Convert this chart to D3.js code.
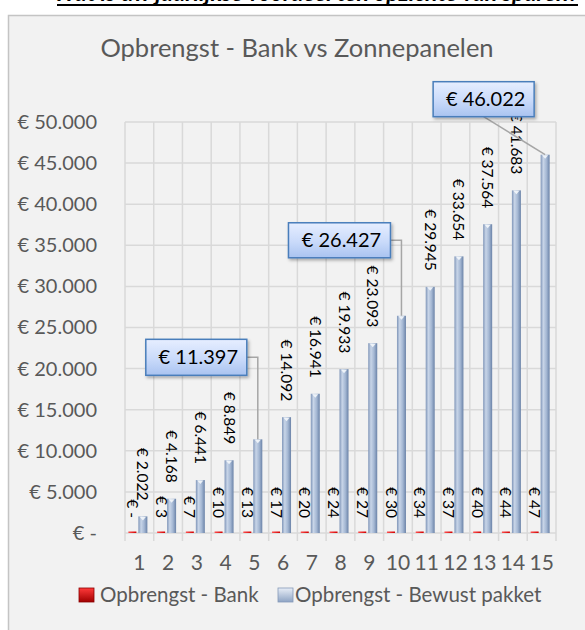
<!DOCTYPE html>
<html>
<head>
<meta charset="utf-8">
<script src="https://cdn.jsdelivr.net/npm/d3@7"></script>
<style>
  html, body { margin: 0; padding: 0; background: #ffffff; }
  svg { display: block; }
  text { font-family: Lato, "Open Sans", "Liberation Sans", sans-serif; }
</style>
</head>
<body>
<svg id="chart" width="585" height="630"></svg>
<script>
// ---------- data ----------
const years = ["1","2","3","4","5","6","7","8","9","10","11","12","13","14","15"];
const bankValues = [0, 3, 7, 10, 13, 17, 20, 24, 27, 30, 34, 37, 40, 44, 47];
const pakketValues = [2022, 4168, 6441, 8849, 11397, 14092, 16941, 19933, 23093, 26427, 29945, 33654, 37564, 41683, 46022];
const yTicks = [0, 5000, 10000, 15000, 20000, 25000, 30000, 35000, 40000, 45000, 50000];
const seriesNames = ["Opbrengst - Bank", "Opbrengst - Bewust pakket"];
const calloutYears = ["5", "10", "15"];
const chartTitle = "Opbrengst - Bank vs Zonnepanelen";
const pageHeading = "Wat is uw jaarlijkse voordeel ten opzichte van sparen?";

// ---------- helpers ----------
const locale = d3.formatLocale({decimal: ",", thousands: ".", grouping: [3], currency: ["€ ", ""]});
const fmtNum = locale.format(",.0f");
const euro = v => v === 0 ? "€ -" : "€ " + fmtNum(v);

const svg = d3.select("#chart");
const defs = svg.append("defs");

const gBlue = defs.append("linearGradient").attr("id", "gBlue").attr("x1", 0).attr("x2", 1).attr("y1", 0).attr("y2", 0);
[["0%", "#7f95b8"], ["30%", "#c8d5e8"], ["65%", "#a4b7d3"], ["100%", "#6b83a8"]].forEach(s => gBlue.append("stop").attr("offset", s[0]).attr("stop-color", s[1]));
const gRed = defs.append("linearGradient").attr("id", "gRed").attr("x1", 0).attr("x2", 1).attr("y1", 0).attr("y2", 0);
[["0%", "#ff5050"], ["100%", "#d00000"]].forEach(s => gRed.append("stop").attr("offset", s[0]).attr("stop-color", s[1]));
const gBox = defs.append("linearGradient").attr("id", "gBox").attr("x1", 0).attr("x2", 0).attr("y1", 0).attr("y2", 1);
[["0%", "#e6eeff"], ["55%", "#c9dafa"], ["100%", "#a9c3f0"]].forEach(s => gBox.append("stop").attr("offset", s[0]).attr("stop-color", s[1]));
const gLegRed = defs.append("linearGradient").attr("id", "gLegRed").attr("x1", 0).attr("x2", 0).attr("y1", 0).attr("y2", 1);
[["0%", "#ff3a3a"], ["100%", "#a00000"]].forEach(s => gLegRed.append("stop").attr("offset", s[0]).attr("stop-color", s[1]));
const gLegBlue = defs.append("linearGradient").attr("id", "gLegBlue").attr("x1", 0).attr("x2", 0).attr("y1", 0).attr("y2", 1);
[["0%", "#e8eef7"], ["100%", "#8ea4c4"]].forEach(s => gLegBlue.append("stop").attr("offset", s[0]).attr("stop-color", s[1]));
const shadow = defs.append("filter").attr("id", "shadow").attr("x", "-20%").attr("y", "-20%").attr("width", "150%").attr("height", "160%");
shadow.append("feDropShadow").attr("dx", 1.5).attr("dy", 2).attr("stdDeviation", 1.5).attr("flood-color", "#000").attr("flood-opacity", 0.3);

// ---------- page heading (cut off at top, as in the source) ----------
svg.append("text").attr("x", 578).attr("y", 1).attr("text-anchor", "end")
  .attr("font-size", 23.3).attr("font-weight", "bold").attr("font-style", "italic").attr("fill", "#000")
  .text(pageHeading);
svg.append("line").attr("x1", 57).attr("x2", 578).attr("y1", 5).attr("y2", 5).attr("stroke", "#000").attr("stroke-width", 2);

// ---------- frame ----------
svg.append("rect").attr("x", 8.5).attr("y", 15.5).attr("width", 600).attr("height", 640)
  .attr("fill", "#f2f2f2").attr("stroke", "#c4c4c4").attr("stroke-width", 1.5);

// ---------- scales ----------
const plot = {left: 125, right: 556, top: 122, bottom: 533};
const x = d3.scaleBand().domain(years).range([plot.left, plot.right]).padding(0);
const y = d3.scaleLinear().domain([0, 50000]).range([plot.bottom, plot.top]);
const cx = d => x(d) + x.bandwidth() / 2;

// ---------- title ----------
svg.append("text").attr("x", 297).attr("y", 57).attr("text-anchor", "middle")
  .attr("font-size", 25.5).attr("fill", "#595959").text(chartTitle);

// ---------- grid ----------
const grid = svg.append("g").attr("stroke", "#d9d9d9").attr("stroke-width", 1.5);
grid.selectAll("line.h").data(yTicks).join("line").attr("class", "h")
  .attr("x1", plot.left).attr("x2", plot.right).attr("y1", d => y(d)).attr("y2", d => y(d));
const bounds = years.map(d => x(d)).concat([plot.right]);
grid.selectAll("line.v").data(bounds).join("line").attr("class", "v")
  .attr("x1", d => d).attr("x2", d => d).attr("y1", plot.top).attr("y2", plot.bottom + 8);

// ---------- axes ----------
const yAxis = d3.axisLeft(y).tickValues(yTicks).tickFormat(euro).tickSize(0).tickPadding(0);
const yg = svg.append("g").attr("transform", `translate(97,0)`).call(yAxis);
yg.select(".domain").remove();
yg.selectAll("text").attr("font-size", 20).attr("fill", "#595959").attr("font-family", "Lato, 'Open Sans', sans-serif");

const xAxis = d3.axisBottom(x).tickSize(0).tickPadding(0);
const xg = svg.append("g").attr("transform", `translate(0,555)`).call(xAxis);
xg.select(".domain").remove();
xg.selectAll("text").attr("font-size", 21).attr("fill", "#595959").attr("font-family", "Lato, 'Open Sans', sans-serif");

// ---------- bars ----------
const bankX = d => cx(d) - 11;
const blueX = d => cx(d) - 1;
const barW = 9;

svg.append("g").selectAll("rect").data(years).join("rect")
  .attr("x", d => bankX(d)).attr("width", barW - 1)
  .attr("y", (d, i) => Math.min(y(bankValues[i]), plot.bottom - 1.5))
  .attr("height", (d, i) => Math.max(plot.bottom - y(bankValues[i]), 1.5))
  .attr("fill", "url(#gRed)");

const blue = svg.append("g");
blue.selectAll("rect").data(years).join("rect")
  .attr("x", d => blueX(d)).attr("width", barW)
  .attr("y", (d, i) => y(pakketValues[i]))
  .attr("height", (d, i) => plot.bottom - y(pakketValues[i]))
  .attr("fill", "url(#gBlue)");
blue.selectAll("path").data(years).join("path")
  .attr("d", (d, i) => {
    const x0 = blueX(d), t = y(pakketValues[i]);
    return `M${x0 + 1.5},${t + 0.5} L${x0 + barW - 1.5},${t + 0.5} L${x0 + barW / 2},${t + 4} Z`;
  })
  .attr("fill", "#f4f7fb").attr("opacity", 0.9);

// ---------- data labels ----------
const lab = svg.append("g").attr("font-size", 15.5).attr("fill", "#000");
lab.selectAll("text.bank").data(years).join("text").attr("class", "bank")
  .attr("transform", d => `translate(${bankX(d) + 4},${plot.bottom - 15}) rotate(90)`)
  .attr("text-anchor", "end").attr("dy", "0.35em")
  .text((d, i) => euro(bankValues[i]));
lab.selectAll("text.blue").data(years.filter(d => !calloutYears.includes(d))).join("text").attr("class", "blue")
  .attr("transform", d => { const i = years.indexOf(d); return `translate(${blueX(d) + barW / 2},${y(pakketValues[i]) - 16}) rotate(90)`; })
  .attr("text-anchor", "end").attr("dy", "0.35em")
  .text(d => euro(pakketValues[years.indexOf(d)]));

// ---------- callouts ----------
const calloutLayout = {
  "5":  {dx: -112, dy: -100, w: 101, h: 36, leader: "elbow"},
  "10": {dx: -113, dy: -93,  w: 102, h: 35, leader: "elbow"},
  "15": {dx: -112, dy: -73,  w: 101, h: 35, leader: "diag"}
};
const cg = svg.append("g");
calloutYears.forEach(yr => {
  const i = years.indexOf(yr);
  const L = calloutLayout[yr];
  const bx = blueX(yr) + barW / 2, by = y(pakketValues[i]);
  const rx = bx + L.dx, ry = by + L.dy;
  let path;
  if (L.leader === "elbow") {
    path = `M${rx + L.w},${ry + L.h / 2} H${bx} V${by}`;
  } else {
    path = `M${rx + L.w / 2},${ry + L.h} L${bx},${by}`;
  }
  cg.append("path").attr("d", path).attr("fill", "none").attr("stroke", "#a6a6a6").attr("stroke-width", 1.5);
  cg.append("rect").attr("x", rx).attr("y", ry).attr("width", L.w).attr("height", L.h)
    .attr("fill", "url(#gBox)").attr("stroke", "#4a7ebb").attr("stroke-width", 1.5).attr("filter", "url(#shadow)");
  cg.append("text").attr("x", rx + L.w / 2 + 2).attr("y", ry + L.h / 2).attr("dy", "0.35em")
    .attr("text-anchor", "middle").attr("font-size", 20).attr("fill", "#000")
    .text(euro(pakketValues[i]));
});

// ---------- legend ----------
const leg = svg.append("g");
const legItems = [
  {name: seriesNames[0], mx: 79, tx: 100, fill: "url(#gLegRed)", stroke: "#8b0000"},
  {name: seriesNames[1], mx: 278, tx: 295, fill: "url(#gLegBlue)", stroke: "#8599b8"}
];
legItems.forEach(it => {
  leg.append("rect").attr("x", it.mx).attr("y", 588).attr("width", 15).attr("height", 14)
    .attr("fill", it.fill).attr("stroke", it.stroke).attr("stroke-width", 0.8);
  leg.append("text").attr("x", it.tx).attr("y", 595).attr("dy", "0.35em")
    .attr("font-size", 20.5).attr("fill", "#595959").text(it.name);
});
</script>
</body>
</html>
